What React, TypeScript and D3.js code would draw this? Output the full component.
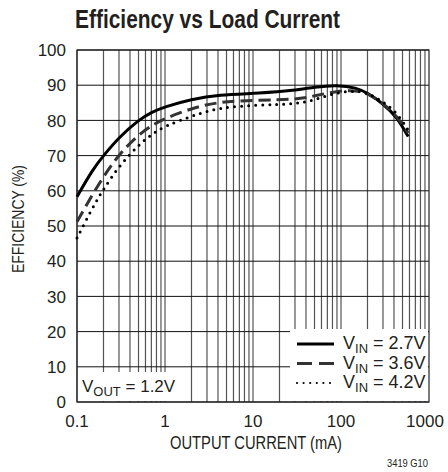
import { useEffect, useRef } from 'react';
import * as d3 from 'd3';

// load current (mA) sample points
const currents = [0.1, 0.15, 0.2, 0.3, 0.5, 0.7, 1, 2, 4, 12, 30, 50, 90, 150, 200, 300, 430, 580];
const eff27 = [58.3, 66.0, 70.0, 75.2, 80.1, 82.3, 83.9, 86.0, 87.3, 87.7, 88.5, 89.5, 90.1, 89.3, 87.8, 84.8, 81.0, 75.4];
const eff36 = [51.2, 59.0, 64.0, 70.4, 75.9, 78.5, 80.6, 83.4, 85.3, 85.8, 85.9, 86.9, 88.4, 88.5, 87.7, 84.9, 81.3, 76.4];
const eff42 = [46.6, 55.2, 60.5, 67.0, 73.0, 76.0, 78.4, 81.2, 83.7, 84.4, 84.6, 85.8, 88.0, 88.4, 87.9, 85.3, 82.3, 77.2];

const xTicks = [0.1, 1, 10, 100, 1000];
const yTicks = [0, 10, 20, 30, 40, 50, 60, 70, 80, 90, 100];
const legendLabels = ['2.7V', '3.6V', '4.2V'];

const FONT = '"Liberation Sans", Arial, Helvetica, sans-serif';

const App = () => {
    const ref = useRef<SVGSVGElement>(null);

    useEffect(() => {
        const svg = d3.select(ref.current);
        svg.selectAll('*').remove();

        const left = 77, right = 429, top = 50, bottom = 402;

        const x = d3.scaleLog().domain([0.1, 1000]).range([left, right]);
        const y = d3.scaleLinear().domain([0, 100]).range([bottom, top]);

        // title (condensed look via textLength)
        svg.append('text')
            .attr('x', 75).attr('y', 28)
            .attr('textLength', 265)
            .attr('lengthAdjust', 'spacingAndGlyphs')
            .style('font-family', FONT)
            .style('font-weight', 'bold')
            .style('font-size', '25px')
            .attr('fill', '#231f20')
            .text('Efficiency vs Load Current');

        const grid = svg.append('g');

        // vertical grid: every 1..9 of each decade
        const vLines: number[] = [];
        for (let p = -1; p < 3; p++) {
            for (let m = 1; m < 10; m++) vLines.push(m * Math.pow(10, p));
        }
        grid.selectAll('line.v')
            .data(vLines)
            .join('line')
            .attr('x1', d => x(d)).attr('x2', d => x(d))
            .attr('y1', top).attr('y2', bottom)
            .attr('stroke', '#555')
            .attr('stroke-width', 1.2);

        grid.selectAll('line.h')
            .data(yTicks)
            .join('line')
            .attr('x1', left).attr('x2', right)
            .attr('y1', d => y(d)).attr('y2', d => y(d))
            .attr('stroke', '#111')
            .attr('stroke-width', 1);

        // frame
        svg.append('rect')
            .attr('x', left).attr('y', top)
            .attr('width', right - left).attr('height', bottom - top)
            .attr('fill', 'none')
            .attr('stroke', '#222')
            .attr('stroke-width', 1.2);

        // curves
        const series = [
            { v: eff27, width: 3, dash: null, cap: 'butt', color: '#000' },
            { v: eff36, width: 3, dash: '12,6', cap: 'butt', color: '#333' },
            { v: eff42, width: 3, dash: '0,7', cap: 'round', color: '#000' },
        ];
        const line = d3.line<[number, number]>()
            .x(d => x(d[0]))
            .y(d => y(d[1]))
            .curve(d3.curveBasis);

        series.forEach(s => {
            svg.append('path')
                .datum(currents.map((c, i) => [c, s.v[i]] as [number, number]))
                .attr('d', line)
                .attr('fill', 'none')
                .attr('stroke', s.color)
                .attr('stroke-width', s.width)
                .attr('stroke-linecap', s.cap)
                .attr('stroke-dasharray', s.dash);
        });

        // axis tick labels
        svg.append('g').selectAll('text')
            .data(yTicks)
            .join('text')
            .attr('x', 66)
            .attr('y', d => y(d))
            .attr('dy', '0.36em')
            .attr('text-anchor', 'end')
            .style('font-family', FONT)
            .style('font-size', '17px')
            .attr('fill', '#231f20')
            .text(d => d);

        svg.append('g').selectAll('text')
            .data(xTicks)
            .join('text')
            .attr('x', d => d === 1000 ? x(d) - 4 : x(d))
            .attr('y', 427)
            .attr('text-anchor', 'middle')
            .style('font-family', FONT)
            .style('font-size', '17px')
            .attr('fill', '#231f20')
            .text(d => d);

        svg.append('text')
            .attr('x', 170).attr('y', 449)
            .attr('textLength', 172)
            .attr('lengthAdjust', 'spacingAndGlyphs')
            .style('font-family', FONT)
            .style('font-size', '18px')
            .attr('fill', '#231f20')
            .text('OUTPUT CURRENT (mA)');

        svg.append('text')
            .attr('transform', 'translate(24,273) rotate(-90)')
            .attr('textLength', 108)
            .attr('lengthAdjust', 'spacingAndGlyphs')
            .style('font-family', FONT)
            .style('font-size', '17px')
            .attr('fill', '#231f20')
            .text('EFFICIENCY (%)');

        svg.append('text')
            .attr('x', 387).attr('y', 467)
            .attr('textLength', 41)
            .attr('lengthAdjust', 'spacingAndGlyphs')
            .style('font-family', FONT)
            .style('font-size', '11px')
            .attr('fill', '#231f20')
            .text('3419 G10');

        // VOUT box
        svg.append('rect')
            .attr('x', left + 1).attr('y', 372)
            .attr('width', 96).attr('height', bottom - 372 - 1)
            .attr('fill', '#fff');
        const vout = svg.append('text')
            .attr('x', 82).attr('y', 392)
            .style('font-family', FONT)
            .style('font-size', '17px')
            .attr('fill', '#231f20');
        vout.append('tspan').text('V');
        vout.append('tspan').attr('dy', 4).style('font-size', '13px').text('OUT');
        vout.append('tspan').attr('dy', -4).text(' = 1.2V');

        // legend
        svg.append('rect')
            .attr('x', 290).attr('y', 329)
            .attr('width', right - 290 - 1).attr('height', bottom - 329 - 1)
            .attr('fill', '#fff');
        const rowY = [344, 363.5, 383];
        legendLabels.forEach((lab, i) => {
            const s = series[i];
            svg.append('line')
                .attr('x1', 297).attr('x2', 334)
                .attr('y1', rowY[i]).attr('y2', rowY[i])
                .attr('stroke', s.color)
                .attr('stroke-width', i === 2 ? 2.2 : 3)
                .attr('stroke-linecap', s.cap)
                .attr('stroke-dasharray', i === 1 ? '15,7' : i === 2 ? '0,6.6' : null);
            const t = svg.append('text')
                .attr('x', 343).attr('y', rowY[i] + 5)
                .style('font-family', FONT)
                .style('font-size', '18px')
                .attr('fill', '#231f20');
            t.append('tspan').text('V');
            t.append('tspan').attr('dy', 4).style('font-size', '13px').text('IN');
            t.append('tspan').attr('dy', -4).text(' = ' + lab);
        });
    }, []);

    return (
        <svg ref={ref} width={448} height={472}
            style={{ position: 'absolute', left: 0, top: 0, background: '#fff' }} />
    );
};

export default App;
